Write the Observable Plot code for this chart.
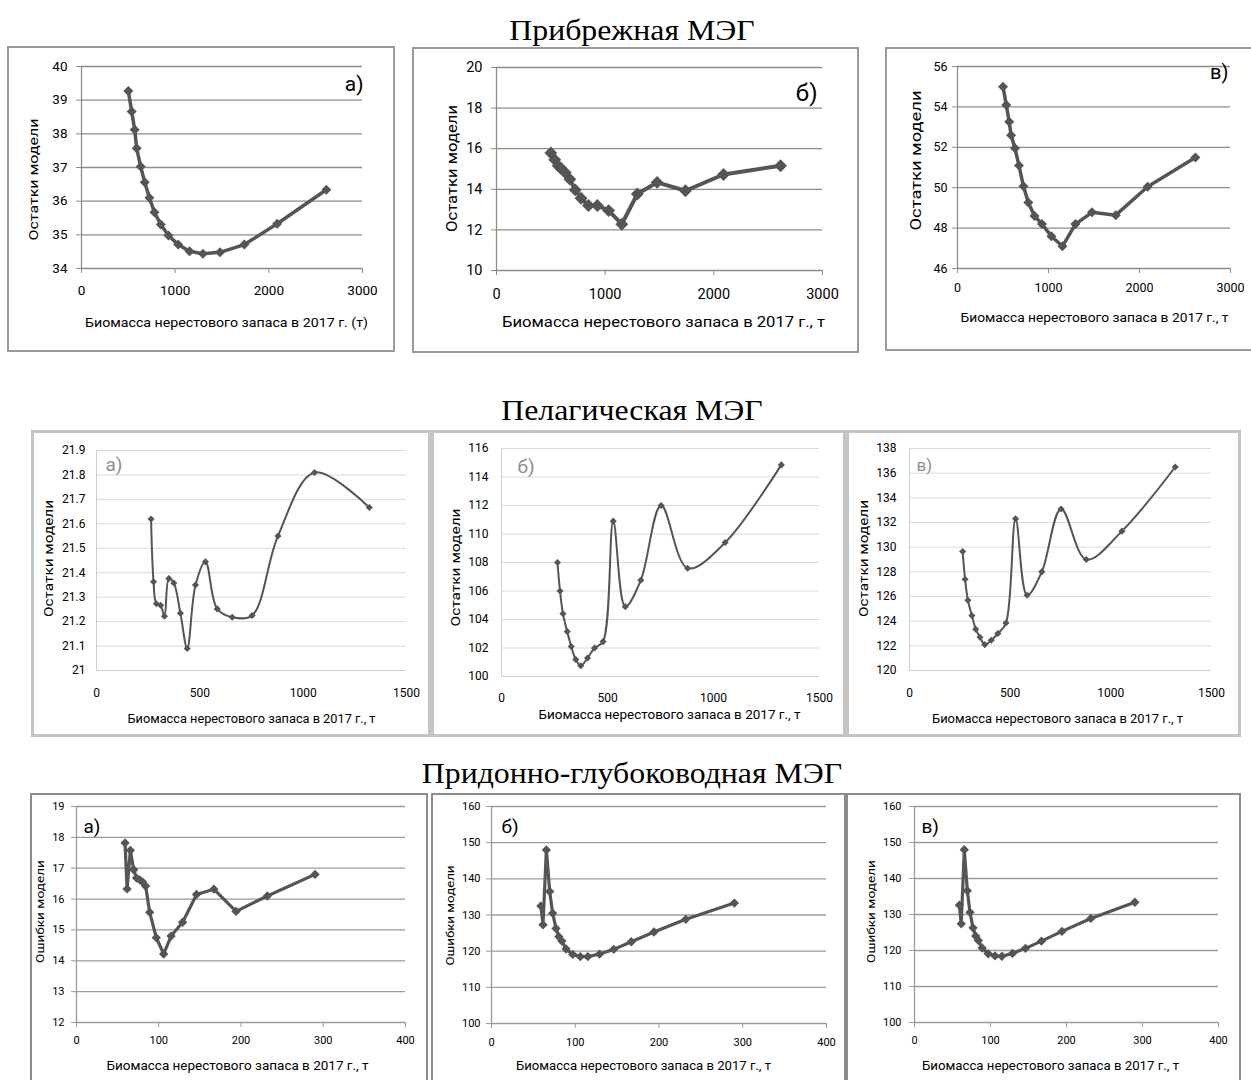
<!DOCTYPE html>
<html><head><meta charset="utf-8">
<script src="https://cdn.jsdelivr.net/npm/d3@7"></script>
<script src="https://cdn.jsdelivr.net/npm/@observablehq/plot@0.6"></script>
<style>
body{margin:0;background:#fff;}
#root{position:relative;width:1251px;height:1080px;overflow:hidden;background:#fff;}
.sec{position:absolute;font-family:"Liberation Serif","DejaVu Serif",serif;font-size:30px;white-space:nowrap;transform:translateX(-50%) scaleX(1.06);line-height:34px;color:#000;}
.frame{position:absolute;box-sizing:border-box;pointer-events:none;}
svg{position:absolute;overflow:visible;}
</style></head>
<body><div id="root"></div>
<script>
// ---------- DATA ----------
const sectionTitles = ["Прибрежная МЭГ", "Пелагическая МЭГ", "Придонно-глубоководная МЭГ"];
const panelLabels = ["а)", "б)", "в)"];
const xTitleA = "Биомасса нерестового запаса в 2017 г. (т)";
const xTitle = "Биомасса нерестового запаса в 2017 г., т";
const yTitleResid = "Остатки модели";
const yTitleError = "Ошибки модели";

// Coastal (Прибрежная)
const coastalX = [500, 536, 568, 589, 632, 675, 725, 778, 846, 928, 1032, 1153, 1296, 1478, 1739, 2089, 2614];
const coastalA = [39.27, 38.66, 38.12, 37.57, 37.03, 36.56, 36.10, 35.67, 35.31, 34.98, 34.71, 34.51, 34.44, 34.48, 34.71, 35.33, 36.34];
const coastalB = [15.79, 15.46, 15.16, 15.05, 14.83, 14.5, 13.97, 13.56, 13.2, 13.2, 12.95, 12.28, 13.77, 14.34, 13.93, 14.73, 15.16];
const coastalC = [55.0, 54.1, 53.27, 52.6, 51.95, 51.1, 50.07, 49.27, 48.6, 48.2, 47.6, 47.1, 48.2, 48.78, 48.64, 50.05, 51.5];
const coastalXTicks = [0, 1000, 2000, 3000];
const coastalATicks = [34, 35, 36, 37, 38, 39, 40];
const coastalBTicks = [10, 12, 14, 16, 18, 20];
const coastalCTicks = [46, 48, 50, 52, 54, 56];

// Pelagic (Пелагическая)
const pelagicX = [264, 276, 290, 310, 329, 350, 374, 406, 439, 479, 527, 584, 657, 753, 878, 1055, 1320];
const pelagicA = [21.62, 21.363, 21.273, 21.267, 21.222, 21.376, 21.358, 21.234, 21.09, 21.35, 21.445, 21.252, 21.218, 21.225, 21.55, 21.81, 21.667];
const pelagicB = [108.0, 106.0, 104.4, 103.15, 102.1, 101.2, 100.75, 101.3, 102.0, 102.45, 110.9, 104.9, 106.75, 112.0, 107.6, 109.4, 114.85];
const pelagicC = [129.65, 127.4, 125.7, 124.45, 123.35, 122.7, 122.1, 122.45, 123.0, 123.85, 132.3, 126.1, 128.0, 133.1, 129.0, 131.3, 136.5];
const pelagicXTicks = [0, 500, 1000, 1500];
const pelagicATicks = [21, 21.1, 21.2, 21.3, 21.4, 21.5, 21.6, 21.7, 21.8, 21.9];
const pelagicBTicks = [100, 102, 104, 106, 108, 110, 112, 114, 116];
const pelagicCTicks = [120, 122, 124, 126, 128, 130, 132, 134, 136, 138];

// Bottom-deepwater (Придонно-глубоководная)
const bottomX = [59, 61.5, 65.5, 69.5, 73, 77, 80.5, 84, 89, 97, 106, 115, 129, 146, 167, 194, 232, 290];
const bottomA = [17.82, 16.33, 17.58, 16.95, 16.68, 16.62, 16.55, 16.42, 15.57, 14.75, 14.22, 14.8, 15.25, 16.15, 16.32, 15.6, 16.1, 16.8];
const bottomB = [132.5, 127.3, 148.0, 136.5, 130.5, 126.3, 124.0, 122.8, 120.6, 119.1, 118.5, 118.5, 119.2, 120.5, 122.6, 125.3, 128.8, 133.3];
const bottomC = [132.6, 127.4, 148.0, 136.6, 130.6, 126.3, 124.0, 122.8, 120.7, 119.1, 118.5, 118.4, 119.2, 120.6, 122.6, 125.3, 128.9, 133.4];
const bottomXTicks = [0, 100, 200, 300, 400];
const bottomATicks = [12, 13, 14, 15, 16, 17, 18, 19];
const bottomBTicks = [100, 110, 120, 130, 140, 150, 160];
const bottomCTicks = [100, 110, 120, 130, 140, 150, 160];

// ---------- STYLES / LAYOUT ----------
const FONT = "Roboto, 'Open Sans', sans-serif";
const row1 = {curve: "linear", line: "#555", lineW: 3.5, r: 4.5, grid: "#8c8c8c", gridW: 1.3, axis: "#8c8c8c", tickSize: 5, border: "2px solid #9a9a9a", labelColor: "#000"};
const row2 = {curve: "catmull-rom", line: "#555", lineW: 2, r: 3.2, grid: "#d9d9d9", gridW: 1, axis: "#d0d0d0", tickSize: 0, border: "3px solid #c4c4c4", labelColor: "#8c8c8c"};
const row3 = {curve: "linear", line: "#555", lineW: 3.2, r: 4.2, grid: "#9a9a9a", gridW: 1.3, axis: "#9a9a9a", tickSize: 5, border: "2px solid #8c8c8c", labelColor: "#000"};

const panels = [
  {...row1, xs: coastalX, ys: coastalA, xTicks: coastalXTicks, yTicks: coastalATicks,
   frame: [7, 46, 395, 352], plot: [81, 66, 362, 268], tickFont: 13.5, xPad: 12, yPad: 9,
   xt: xTitleA, xtPos: [226, 322], xtW: 283, xtFont: 13.5, yt: yTitleResid, ytPos: [33, 179], ytW: 122, ytFont: 13.5,
   lab: panelLabels[0], labPos: [363, 90], labAnchor: "end", labFont: 21},
  {...row1, xs: coastalX, ys: coastalB, xTicks: coastalXTicks, yTicks: coastalBTicks, r: 5.8, lineW: 4,
   frame: [412, 47, 859, 353], plot: [496, 67, 822, 270], tickFont: 14.5, xPad: 13, yPad: 9,
   xt: xTitle, xtPos: [663, 322], xtW: 323, xtFont: 15.5, yt: yTitleResid, ytPos: [452, 168], ytW: 127, ytFont: 15,
   lab: panelLabels[1], labPos: [817, 100], labAnchor: "end", labFont: 24},
  {...row1, xs: coastalX, ys: coastalC, xTicks: coastalXTicks, yTicks: coastalCTicks, border: "2px solid #9a9a9a",
   frame: [885, 47, 1251, 351], plot: [957, 66, 1230, 268], tickFont: 12.5, xPad: 10, yPad: 5,
   xt: xTitle, xtPos: [1094, 317], xtW: 268, xtFont: 13, yt: yTitleResid, ytPos: [916, 160], ytW: 140, ytFont: 14,
   lab: panelLabels[2], labPos: [1228, 78], labAnchor: "end", labFont: 20, noRight: true},

  {...row2, xs: pelagicX, ys: pelagicA, xTicks: pelagicXTicks, yTicks: pelagicATicks,
   frame: [31, 430, 431, 737], plot: [96, 450, 406, 670], tickFont: 12, xPad: 18, yPad: 11,
   xt: xTitle, xtPos: [251, 718], xtW: 248, xtFont: 12.5, yt: yTitleResid, ytPos: [48, 558], ytW: 117, ytFont: 13,
   lab: panelLabels[0], labPos: [105, 470], labAnchor: "start", labFont: 19},
  {...row2, xs: pelagicX, ys: pelagicB, xTicks: pelagicXTicks, yTicks: pelagicBTicks,
   frame: [431, 430, 846, 737], plot: [501, 448, 819, 676], tickFont: 12, xPad: 17, yPad: 13,
   xt: xTitle, xtPos: [669, 714], xtW: 262, xtFont: 12.5, yt: yTitleResid, ytPos: [455, 567], ytW: 118, ytFont: 13,
   lab: panelLabels[1], labPos: [517, 472], labAnchor: "start", labFont: 19},
  {...row2, xs: pelagicX, ys: pelagicC, xTicks: pelagicXTicks, yTicks: pelagicCTicks,
   frame: [846, 430, 1241, 737], plot: [909, 448, 1211, 670], tickFont: 12, xPad: 18, yPad: 13,
   xt: xTitle, xtPos: [1057, 718], xtW: 251, xtFont: 12.5, yt: yTitleResid, ytPos: [863, 558], ytW: 117, ytFont: 13,
   lab: panelLabels[2], labPos: [916, 470], labAnchor: "start", labFont: 17},

  {...row3, xs: bottomX, ys: bottomA, xTicks: bottomXTicks, yTicks: bottomATicks,
   frame: [30, 793, 428, 1090], plot: [76, 806, 405, 1022], tickFont: 11, xPad: 9, yPad: 7,
   xt: xTitle, xtPos: [237, 1065], xtW: 262, xtFont: 13, yt: yTitleError, ytPos: [40, 911], ytW: 103, ytFont: 11.5,
   lab: panelLabels[0], labPos: [83, 832], labAnchor: "start", labFont: 19},
  {...row3, xs: bottomX, ys: bottomB, xTicks: bottomXTicks, yTicks: bottomBTicks,
   frame: [431, 793, 846, 1090], plot: [491, 806, 826, 1023], tickFont: 11, xPad: 10, yPad: 6,
   xt: xTitle, xtPos: [643, 1065], xtW: 255, xtFont: 13, yt: yTitleError, ytPos: [450, 915], ytW: 100, ytFont: 11.5,
   lab: panelLabels[1], labPos: [501, 832], labAnchor: "start", labFont: 19},
  {...row3, xs: bottomX, ys: bottomC, xTicks: bottomXTicks, yTicks: bottomCTicks,
   frame: [846, 793, 1241, 1090], plot: [914, 806, 1218, 1022], tickFont: 11, xPad: 9, yPad: 8,
   xt: xTitle, xtPos: [1050, 1065], xtW: 257, xtFont: 13, yt: yTitleError, ytPos: [871, 911], ytW: 103, ytFont: 11.5,
   lab: panelLabels[2], labPos: [921, 832], labAnchor: "start", labFont: 19}
];

const sectionPos = [[632, 13], [632, 393], [632, 756]];

// ---------- RENDER ----------
const root = document.getElementById("root");
sectionTitles.forEach((t, i) => {
  const d = document.createElement("div");
  d.className = "sec"; d.textContent = t;
  d.style.left = sectionPos[i][0] + "px"; d.style.top = sectionPos[i][1] + "px";
  root.appendChild(d);
});

function makePanel(c) {
  const [fl, ft, fr, fb] = c.frame;
  const [px0, py0, px1, py1] = c.plot;
  const W = fr - fl, H = fb - ft;
  const data = c.xs.map((x, i) => ({x, y: c.ys[i]}));
  const xd = [c.xTicks[0], c.xTicks[c.xTicks.length - 1]];
  const yd = [c.yTicks[0], c.yTicks[c.yTicks.length - 1]];
  const off = (p) => ({dx: p[0] - px0, dy: p[1] - py0});
  const svg = Plot.plot({
    width: W, height: H,
    marginLeft: px0 - fl, marginRight: fr - px1, marginTop: py0 - ft, marginBottom: fb - py1,
    x: {domain: xd}, y: {domain: yd},
    style: {fontFamily: FONT, fontSize: c.tickFont + "px", color: "#000", background: "transparent"},
    marks: [
      Plot.gridY(c.yTicks.slice(1), {stroke: c.grid, strokeOpacity: 1, strokeWidth: c.gridW}),
      Plot.axisY({ticks: c.yTicks, tickSize: c.tickSize, tickPadding: c.yPad, tickFormat: d => String(d), label: null, fontSize: c.tickFont, stroke: c.axis, fill: "#000"}),
      Plot.axisX({ticks: c.xTicks, tickSize: c.tickSize, tickPadding: c.xPad, tickFormat: d => String(d), label: null, fontSize: c.tickFont, stroke: c.axis, fill: "#000"}),
      Plot.ruleY([yd[0]], {stroke: c.axis, strokeWidth: c.gridW}),
      Plot.ruleX([xd[0]], {stroke: c.axis, strokeWidth: c.gridW}),
      Plot.line(data, {x: "x", y: "y", stroke: c.line, strokeWidth: c.lineW, curve: c.curve, strokeLinejoin: "round"}),
      Plot.dot(data, {x: "x", y: "y", symbol: "diamond2", r: c.r, fill: c.line, stroke: "none"}),
      Plot.text([c.xt], {frameAnchor: "top-left", text: d => d, ...off(c.xtPos), textAnchor: "middle", lineAnchor: "middle", fontSize: c.xtFont, fill: "#000"}),
      Plot.text([c.yt], {frameAnchor: "top-left", text: d => d, ...off(c.ytPos), textAnchor: "middle", lineAnchor: "middle", rotate: -90, fontSize: c.ytFont, fill: "#000"}),
      Plot.text([c.lab], {frameAnchor: "top-left", text: d => d, ...off(c.labPos), textAnchor: c.labAnchor, lineAnchor: "bottom", fontSize: c.labFont, fill: c.labelColor})
    ]
  });
  svg.style.left = fl + "px"; svg.style.top = ft + "px";
  svg.querySelectorAll("text").forEach(t => {
    if (t.textContent === c.xt) { t.setAttribute("textLength", c.xtW); t.setAttribute("lengthAdjust", "spacingAndGlyphs"); }
    if (t.textContent === c.yt) { t.setAttribute("textLength", c.ytW); t.setAttribute("lengthAdjust", "spacingAndGlyphs"); }
  });
  root.appendChild(svg);
  const f = document.createElement("div");
  f.className = "frame";
  Object.assign(f.style, {left: fl + "px", top: ft + "px", width: W + "px", height: H + "px", border: c.border});
  if (c.noRight) f.style.borderRight = "none";
  root.appendChild(f);
}
panels.forEach(makePanel);
</script>
</body></html>
